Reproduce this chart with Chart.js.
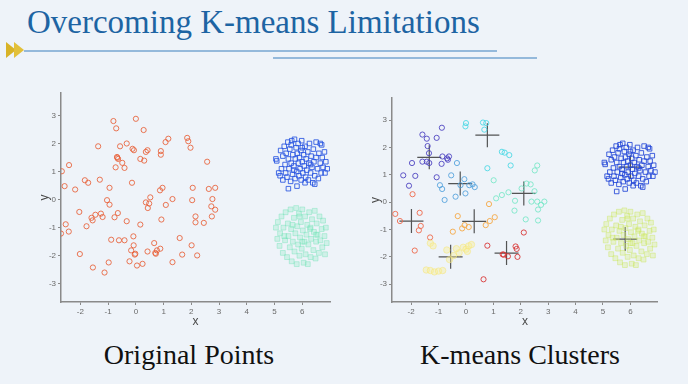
<!DOCTYPE html>
<html><head><meta charset="utf-8">
<script src="https://cdn.jsdelivr.net/npm/chart.js@4/dist/chart.umd.min.js"></script>
<style>
html,body{margin:0;padding:0;}
body{width:688px;height:384px;background:#eef3f9;position:relative;overflow:hidden;font-family:"Liberation Serif",serif;}
#title{position:absolute;left:27px;top:6px;font-size:33px;line-height:33px;color:#1d64a3;white-space:nowrap;}
.rule{position:absolute;height:0;border-top:2px solid #94b9db;}
.sub{position:absolute;top:341px;width:240px;text-align:center;font-size:28px;line-height:28px;color:#111;white-space:nowrap;}
canvas{position:absolute;}
</style></head><body>
<div id="title">Overcoming K-means Limitations</div>
<svg style="position:absolute;left:6px;top:42px" width="20" height="17"><polygon points="0,0 10,8 0,16" fill="#d8b327"/><polygon points="8,0 18,8 8,16" fill="#e2c03a"/></svg>
<div class="rule" style="left:24px;top:50px;width:473px"></div>
<div class="rule" style="left:273px;top:57px;width:264px"></div>
<canvas id="c1" width="320" height="250" style="left:20px;top:85px"></canvas>
<canvas id="c2" width="320" height="250" style="left:351px;top:85px"></canvas>
<div class="sub" style="left:69px">Original Points</div>
<div class="sub" style="left:400px">K-means Clusters</div>
<script>
// ---- data ----
const xTicks = [-2,-1,0,1,2,3,4,5,6];
const yTicks = [-3,-2,-1,0,1,2,3];

const originalPoints = [[-0.81,2.80],[-0.71,2.54],[0,2.88],[0.28,2.48],[-1.36,1.90],[-0.57,1.90],[-0.33,2.0],[-0.12,1.81],[-0.07,1.76],[0.36,1.70],[0.42,1.76],[0.9,1.73],[0.9,1.6],[1.07,2.05],[1.17,2.17],[1.85,2.2],[1.89,2.08],[1.97,1.85],[-0.67,1.49],[-0.64,1.45],[-0.68,1.52],[-0.49,1.31],[-0.73,1.15],[-0.41,1.13],[0.16,1.45],[0.30,1.39],[2.57,1.35],[-2.67,1.01],[-2.41,1.23],[-1.84,0.69],[-1.72,0.6],[-1.30,0.71],[-2.57,0.48],[-2.19,0.36],[-0.95,0.42],[-0.14,0.6],[-1.04,-0.02],[-0.95,-0.18],[-2.04,-0.44],[-1.6,-0.65],[-1.56,-0.74],[-1.26,-0.5],[-1.2,-0.62],[-1.46,-0.54],[-0.77,-0.63],[-0.65,-0.48],[-1.78,-0.95],[-2.53,-0.88],[-2.7,-1.21],[-2.42,-1.14],[-0.33,-0.77],[0.16,-0.89],[0.36,-0.1],[0.43,-0.30],[0.48,-0.14],[0.52,0.08],[0.87,0.33],[0.96,0.42],[1.08,-0.19],[1.32,0.02],[0.92,-0.71],[2.03,-0.02],[2.05,0.42],[2.15,-0.6],[2.15,-0.81],[2.45,-0.83],[2.74,-0.6],[2.76,0.02],[2.63,0.38],[2.86,0.42],[2.86,-0.36],[2.72,-0.24],[-0.89,-1.43],[-0.61,-1.45],[-0.41,-1.45],[-0.09,-1.31],[-0.08,-1.63],[-0.17,-1.81],[-0.04,-1.96],[-0.02,-1.93],[0.42,-1.85],[0.7,-1.9],[0.76,-1.81],[0.88,-1.75],[0.66,-1.55],[1.58,-1.37],[2.01,-1.63],[1.67,-1.96],[2.21,-1.99],[1.32,-2.23],[-0.23,-2.2],[0.04,-2.35],[0.24,-2.29],[-2.02,-1.94],[-0.98,-2.24],[-1.55,-2.42],[-1.13,-2.6],[0.72,-1.93]];

const upperSquares = [[5.05,1.45],[5.08,1.38],[5.15,0.95],[5.2,0.85],[5.22,1.75],[5.25,1.1],[5.3,1.55],[5.3,0.7],[5.35,1.9],[5.38,1.25],[5.4,0.95],[5.42,1.65],[5.45,0.8],[5.48,2.05],[5.5,1.45],[5.5,0.39],[5.52,1.1],[5.55,1.8],[5.58,0.65],[5.6,1.3],[5.62,2.1],[5.65,0.9],[5.66,1.6],[5.7,1.2],[5.72,2.15],[5.74,0.75],[5.75,1.45],[5.78,1.85],[5.8,1.0],[5.81,0.48],[5.82,1.65],[5.85,2.0],[5.86,1.3],[5.88,0.85],[5.9,1.5],[5.92,1.1],[5.95,1.75],[5.96,0.7],[5.98,2.1],[6.0,1.35],[6.02,0.95],[6.05,1.6],[6.07,1.2],[6.1,1.9],[6.12,0.8],[6.14,1.45],[6.16,1.05],[6.2,1.7],[6.22,0.7],[6.24,1.3],[6.26,2.0],[6.3,0.95],[6.32,1.55],[6.35,1.15],[6.38,0.6],[6.4,1.8],[6.42,1.35],[6.45,0.85],[6.5,2.05],[6.5,1.5],[6.55,1.1],[6.58,0.75],[6.6,1.65],[6.65,1.3],[6.68,0.95],[6.7,1.95],[6.72,1.5],[6.75,1.15],[6.8,1.7],[6.82,0.95],[6.85,1.35],[6.9,1.1],[6.65,2.0],[6.45,0.55],[6.1,0.6],[5.6,1.95],[6.0,1.85],[5.7,1.05],[6.3,1.25]];

const lowerSquares = [[5.05,-1.0],[5.1,-1.4],[5.12,-0.8],[5.18,-1.65],[5.2,-1.2],[5.25,-0.6],[5.3,-1.9],[5.32,-1.0],[5.38,-1.45],[5.4,-0.45],[5.45,-2.05],[5.48,-0.85],[5.5,-1.3],[5.55,-1.7],[5.58,-0.35],[5.6,-1.05],[5.62,-2.2],[5.66,-1.5],[5.7,-0.65],[5.72,-1.85],[5.75,-1.2],[5.78,-0.3],[5.8,-2.3],[5.82,-0.95],[5.85,-1.6],[5.88,-0.5],[5.9,-2.0],[5.92,-1.35],[5.95,-0.8],[5.98,-1.75],[6.0,-0.35],[6.02,-1.1],[6.05,-2.25],[6.08,-1.5],[6.1,-0.6],[6.12,-1.95],[6.15,-1.25],[6.18,-0.9],[6.2,-2.3],[6.22,-1.6],[6.25,-0.45],[6.28,-1.05],[6.3,-2.05],[6.32,-1.4],[6.35,-0.7],[6.4,-1.8],[6.42,-1.15],[6.45,-0.4],[6.48,-2.1],[6.5,-1.5],[6.52,-0.85],[6.55,-1.25],[6.6,-1.9],[6.62,-0.6],[6.65,-1.45],[6.7,-1.05],[6.72,-1.7],[6.75,-0.75],[6.8,-1.3],[6.82,-1.95],[6.85,-1.0],[6.88,-1.55],[5.35,-1.3],[5.65,-0.9],[6.0,-1.5],[6.3,-1.0],[5.9,-0.6],[6.5,-1.25]];

const clusterIndigo = [[-1.59,2.47],[-1.43,2.32],[-1.40,2.05],[-1.07,2.35],[-0.88,2.72],[-1.35,1.79],[-1.59,1.48],[-1.43,1.48],[-1.34,1.43],[-1.97,1.43],[-2.29,0.98],[-1.85,0.96],[-2.08,0.6],[-1.07,0.91],[-0.89,1.40],[-0.86,1.67],[-0.69,1.6],[-0.62,1.67],[-0.66,1.55]];
const clusterLightBlue = [[-0.33,1.43],[-0.54,0.98],[-0.95,0.62],[-0.87,0.48],[-0.78,0.08],[-0.38,0.2],[-0.02,0.32],[-0.06,0.84],[0.12,0.62],[0.24,0.65],[0.32,0.55],[-0.2,0.62]];
const clusterCyan = [[0.0,2.89],[-0.02,2.77],[0.62,2.91],[0.74,2.89],[0.67,2.65],[0.78,1.24],[1.31,1.84],[1.41,1.81],[1.58,1.72],[1.63,1.34]];
const clusterAqua = [[1.01,0.8],[1.10,0.14],[1.31,0.26],[1.55,0.36],[1.79,0.05],[1.77,-0.31],[2.18,-0.63],[2.63,-0.27],[2.86,0.02],[2.6,1.34],[2.51,1.16],[2.36,0.65],[2.21,0.68],[2.63,-0.67],[2.6,0.02],[2.74,-0.1],[2.39,0.02],[2.03,0.5],[2.5,0.4]];
const clusterOrange = [[0.84,-0.07],[-0.30,-0.51],[-0.48,-1.08],[-0.14,-0.96],[-0.05,-0.84],[0.10,-0.91],[0.72,-0.84],[0.87,-0.69],[1.05,-0.55]];
const clusterRedOrange = [[-2.58,-0.43],[-2.41,-0.69],[-1.69,-0.39],[-1.65,-0.87],[-1.72,-1.03],[-1.31,-1.29],[-1.87,-1.77],[-1.95,0.29]];
const clusterYellow = [[-1.3,-1.5],[-1.2,-1.6],[-0.7,-1.75],[-0.45,-1.95],[-0.25,-1.85],[-0.1,-1.65],[0.0,-1.72],[0.1,-1.6],[0.2,-1.55],[0.05,-1.8],[-1.45,-2.48],[-1.3,-2.5],[-1.15,-2.55],[-1.0,-2.52],[-0.85,-2.5],[-0.6,-2.1],[-0.35,-1.7]];
const clusterRed = [[0.78,-1.59],[1.34,-1.91],[1.38,-1.92],[1.53,-1.98],[1.81,-1.62],[1.85,-1.71],[1.88,-2.0],[2.11,-1.11],[0.64,-2.82]];
const centroids = [[-1.34,1.64],[0.78,2.45],[-0.21,0.68],[2.11,0.32],[-1.99,-0.69],[0.30,-0.70],[-0.56,-2.0],[1.48,-1.86],[6.0,1.28],[5.81,-1.35]];

// ---- helpers ----
const pts = a => a.map(p => ({x:p[0], y:p[1]}));
function ds(arr, color, style, r, fill, bw){
  return {data: pts(arr), pointStyle: style, pointRadius: r, pointHoverRadius: r,
    borderColor: color, backgroundColor: fill || 'rgba(0,0,0,0)', borderWidth: bw || 1, showLine:false};
}
function axis(ticks, min, max, title, isX){
  return {
    type:'linear', min:min, max:max,
    afterBuildTicks: s => { s.ticks = ticks.map(v => ({value:v})); },
    afterFit: s => { if (isX) s.height = 33; else s.width = 41; },
    grid:{drawOnChartArea:false, drawTicks:true, tickLength:3, color:'#8a8a8a', lineWidth:1},
    border:{color:'#8a8a8a', width:1.5},
    ticks:{color:'#6a6a6a', padding:2, maxRotation:0, autoSkip:false, font:{family:'Liberation Sans', size:8}},
    title:{display:true, text:title, color:'#4a4a4a', font:{family:'Liberation Sans', size:12},
      padding: isX ? {top:0,bottom:6} : {top:17,bottom:0}}
  };
}
function makeChart(id, datasets){
  new Chart(document.getElementById(id), {
    type:'scatter',
    data:{datasets:datasets},
    options:{
      responsive:false, animation:false, devicePixelRatio:1,
      layout:{padding:{left:0,right:10,top:8,bottom:0}},
      plugins:{legend:{display:false}, tooltip:{enabled:false}},
      scales:{x: axis(xTicks, -2.7, 7, 'x', true), y: axis(yTicks, -3.65, 3.8, 'y', false)}
    }
  });
}

makeChart('c1', [
  ds(lowerSquares, 'rgba(110,225,180,0.4)', 'rect', 3.4, 'rgba(140,235,195,0.3)'),
  ds(upperSquares, 'rgba(40,85,225,0.85)', 'rect', 3.2),
  ds(originalPoints, 'rgba(232,95,55,0.85)', 'circle', 2.6)
]);

makeChart('c2', [
  ds(lowerSquares, 'rgba(200,228,90,0.42)', 'rect', 3.4, 'rgba(215,235,120,0.32)'),
  ds(upperSquares, 'rgba(35,70,215,0.85)', 'rect', 3.2),
  ds(clusterYellow, 'rgba(245,230,120,0.55)', 'circle', 3.2, 'rgba(248,238,150,0.4)'),
  ds(clusterIndigo, 'rgba(70,60,190,0.85)', 'circle', 2.6),
  ds(clusterLightBlue, 'rgba(80,160,220,0.85)', 'circle', 2.6),
  ds(clusterCyan, 'rgba(70,215,228,0.85)', 'circle', 2.6),
  ds(clusterAqua, 'rgba(110,230,195,0.8)', 'circle', 2.6),
  ds(clusterOrange, 'rgba(245,168,70,0.9)', 'circle', 2.6),
  ds(clusterRedOrange, 'rgba(238,105,75,0.9)', 'circle', 2.6),
  ds(clusterRed, 'rgba(215,45,45,0.85)', 'circle', 2.6),
  ds(centroids, 'rgba(55,55,55,0.85)', 'cross', 12, null, 1.2)
]);
</script>
</body></html>
